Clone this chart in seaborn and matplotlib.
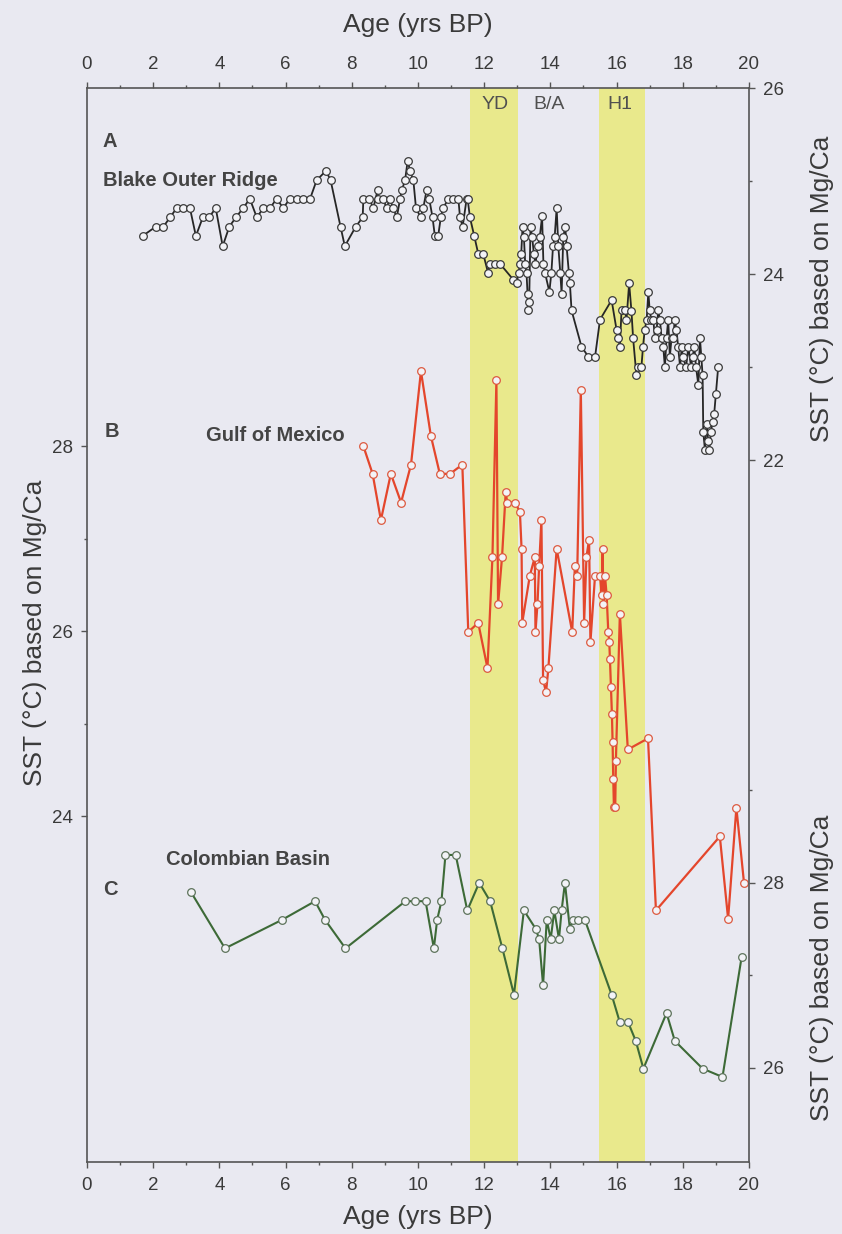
import numpy as np
import pandas as pd
import matplotlib
matplotlib.use("Agg")
import matplotlib.pyplot as plt
from matplotlib.ticker import FixedLocator, MultipleLocator
import seaborn as sns

# ---- data (ages in kyr BP, SST in degC) ----

blake_age = [
    1.68, 2.08, 2.31, 2.51, 2.71, 2.91, 3.11, 3.29, 3.50, 3.69, 3.89, 4.10, 4.30, 4.50,
    4.72, 4.92, 5.13, 5.33, 5.53, 5.73, 5.93, 6.13, 6.34, 6.53, 6.74, 6.94, 7.22, 7.36,
    7.66, 7.79, 8.12, 8.33, 8.35, 8.53, 8.65, 8.78, 8.79, 8.95, 9.05, 9.15, 9.25, 9.36,
    9.46, 9.51, 9.61, 9.69, 9.76, 9.86, 9.94, 10.08, 10.16, 10.26, 10.34, 10.44, 10.51,
    10.61, 10.69, 10.76, 10.92, 11.07, 11.22, 11.27, 11.35, 11.47, 11.50, 11.57, 11.70,
    11.82, 11.97, 12.12, 12.17, 12.33, 12.48, 12.88, 12.98, 13.04, 13.08, 13.12, 13.16,
    13.20, 13.24, 13.28, 13.31, 13.33, 13.36, 13.40, 13.45, 13.50, 13.55, 13.62, 13.68,
    13.75, 13.79, 13.84, 13.97, 14.03, 14.08, 14.13, 14.19, 14.24, 14.30, 14.34, 14.39,
    14.45, 14.49, 14.56, 14.59, 14.64, 14.94, 15.15, 15.35, 15.50, 15.85, 16.00, 16.05,
    16.10, 16.15, 16.25, 16.30, 16.38, 16.45, 16.50, 16.60, 16.65, 16.75, 16.80, 16.85,
    16.91, 16.96, 17.00, 17.05, 17.11, 17.16, 17.21, 17.26, 17.31, 17.36, 17.41, 17.46,
    17.51, 17.56, 17.61, 17.66, 17.71, 17.76, 17.81, 17.86, 17.92, 17.97, 18.00, 18.10,
    18.17, 18.25, 18.30, 18.35, 18.40, 18.47, 18.52, 18.56, 18.60, 18.62, 18.67, 18.72,
    18.77, 18.80, 18.85, 18.90, 18.95, 19.00, 19.07,
]
blake_sst = [
    24.41, 24.51, 24.51, 24.61, 24.71, 24.71, 24.71, 24.41, 24.61, 24.61, 24.71, 24.30, 24.51, 24.61,
    24.71, 24.81, 24.61, 24.71, 24.71, 24.81, 24.71, 24.81, 24.81, 24.81, 24.81, 25.01, 25.11, 25.01,
    24.51, 24.30, 24.51, 24.61, 24.81, 24.81, 24.71, 24.90, 24.81, 24.81, 24.71, 24.81, 24.71, 24.61,
    24.81, 24.90, 25.01, 25.22, 25.11, 25.01, 24.71, 24.61, 24.71, 24.90, 24.81, 24.61, 24.41,
    24.41, 24.61, 24.71, 24.81, 24.81, 24.81, 24.61, 24.51, 24.81, 24.81, 24.61, 24.41,
    24.22, 24.22, 24.01, 24.11, 24.11, 24.11, 23.94, 23.90, 24.01, 24.11, 24.22, 24.51,
    24.40, 24.11, 24.01, 23.79, 23.61, 23.70, 24.51, 24.40, 24.22, 24.11, 24.30, 24.40,
    24.62, 24.11, 24.01, 23.81, 24.01, 24.30, 24.40, 24.71, 24.30, 24.01, 23.79, 24.40,
    24.51, 24.30, 24.01, 23.90, 23.61, 23.22, 23.11, 23.11, 23.51, 23.72, 23.40, 23.31,
    23.22, 23.61, 23.61, 23.51, 23.90, 23.60, 23.31, 22.91, 23.00, 23.00, 23.22, 23.40,
    23.51, 23.81, 23.61, 23.51, 23.51, 23.31, 23.40, 23.61, 23.51, 23.31, 23.22, 23.00,
    23.31, 23.51, 23.11, 23.31, 23.31, 23.51, 23.40, 23.22, 23.00, 23.22, 23.11, 23.00,
    23.22, 23.00, 23.11, 23.22, 23.00, 22.81, 23.31, 23.11, 22.91, 22.30, 22.11, 22.39,
    22.20, 22.11, 22.30, 22.41, 22.50, 22.71, 23.00,
]

gulf_age = [
    8.35, 8.63, 8.88, 9.18, 9.49, 9.79, 10.09, 10.39, 10.66, 10.97, 11.34, 11.52, 11.82,
    12.10, 12.25, 12.37, 12.42, 12.54, 12.65, 12.70, 12.93, 13.08, 13.13, 13.15, 13.38,
    13.53, 13.55, 13.61, 13.66, 13.73, 13.78, 13.87, 13.94, 14.19, 14.66, 14.74, 14.81,
    14.92, 15.02, 15.09, 15.17, 15.21, 15.35, 15.50, 15.55, 15.58, 15.60, 15.65, 15.70,
    15.75, 15.78, 15.80, 15.83, 15.86, 15.88, 15.90, 15.92, 15.96, 15.98, 16.10, 16.34,
    16.95, 17.19, 19.12, 19.37, 19.62, 19.85,
]
gulf_sst = [
    28.00, 27.70, 27.20, 27.70, 27.39, 27.80, 28.81, 28.11, 27.70, 27.70, 27.80, 25.99, 26.09,
    25.60, 26.80, 28.71, 26.29, 26.80, 27.50, 27.39, 27.39, 27.29, 26.89, 26.09, 26.60,
    26.80, 25.99, 26.29, 26.70, 27.20, 25.47, 25.34, 25.60, 26.89, 25.99, 26.70, 26.60,
    28.61, 26.09, 26.80, 26.99, 25.88, 26.60, 26.60, 26.39, 26.89, 26.29, 26.60, 26.39,
    25.99, 25.88, 25.70, 25.40, 25.10, 24.80, 24.40, 24.10, 24.10, 24.60, 26.19, 24.72,
    24.84, 22.98, 23.78, 22.89, 24.09, 23.28,
]

colombia_age = [
    3.14, 4.17, 5.90, 6.89, 7.19, 7.81, 9.62, 9.92, 10.23, 10.48, 10.58, 10.71, 10.83,
    11.14, 11.49, 11.85, 12.18, 12.55, 12.90, 13.20, 13.56, 13.66, 13.78, 13.89, 14.01,
    14.12, 14.26, 14.34, 14.44, 14.59, 14.69, 14.84, 15.04, 15.85, 16.10, 16.35, 16.58,
    16.81, 17.51, 17.76, 18.60, 19.20, 19.78,
]
colombia_sst = [
    27.90, 27.29, 27.60, 27.80, 27.60, 27.29, 27.80, 27.80, 27.80, 27.29, 27.60, 27.80, 28.30,
    28.30, 27.70, 28.00, 27.80, 27.29, 26.79, 27.70, 27.50, 27.39, 26.89, 27.60, 27.39,
    27.70, 27.39, 27.70, 28.00, 27.50, 27.60, 27.60, 27.60, 26.79, 26.49, 26.49, 26.29,
    25.99, 26.59, 26.29, 25.99, 25.90, 27.20,
]

# Younger Dryas and Heinrich 1 shading
band_start = [11.57, 15.47]
band_end = [13.02, 16.86]

BG = "#e9e9f1"
YELLOW = "#e9e98c"
AXC = "#555555"
TXT = "#3a3a3a"

sns.set_theme(style="ticks")
plt.rcParams["font.family"] = ["Liberation Sans", "DejaVu Sans"]

fig = plt.figure(figsize=(8.42, 12.34), dpi=100, facecolor=BG)
ax = fig.add_axes([0.1033, 0.0583, 0.7862, 0.8703])
ax.set_facecolor(BG)
ax_b = ax.twinx()
ax_c = ax.twinx()

for s, e in zip(band_start, band_end):
    ax.axvspan(s, e, color=YELLOW, lw=0, zorder=0)

line_kw = dict(marker="o", markersize=5.5, markeredgewidth=0.9,
               markerfacecolor="#f3f3f7", estimator=None, sort=False)

sns.lineplot(x=gulf_age, y=gulf_sst, ax=ax, color="#e4462c", linewidth=1.6,
             markeredgecolor="#dd5a40", **line_kw)
sns.lineplot(x=blake_age, y=blake_sst, ax=ax_b, color="#262626", linewidth=1.3,
             markeredgecolor="#3a3a3a", **line_kw)
sns.lineplot(x=colombia_age, y=colombia_sst, ax=ax_c, color="#3d6a37", linewidth=1.5,
             markeredgecolor="#5d735b", **line_kw)

# x axis, labelled top and bottom
ax.set_xlim(0, 20)
ax.xaxis.set_major_locator(MultipleLocator(2))
ax.xaxis.set_minor_locator(MultipleLocator(1))
ax.tick_params(axis="x", which="both", top=True, labeltop=True, bottom=True,
               direction="out", color=AXC, width=1, labelsize=13.5,
               labelcolor=TXT, pad=7)
ax.tick_params(axis="x", which="major", length=4)
ax.tick_params(axis="x", which="minor", length=2.5)

# three temperature scales
ax.set_ylim(20.26, 31.87)
ax.yaxis.set_major_locator(FixedLocator([24, 26, 28]))
ax.yaxis.set_minor_locator(FixedLocator([25, 27]))

ax_b.set_ylim(14.45, 26.0)
ax_b.yaxis.set_major_locator(FixedLocator([22, 24, 26]))
ax_b.yaxis.set_minor_locator(FixedLocator([23, 25]))

ax_c.set_ylim(24.98, 36.59)
ax_c.yaxis.set_major_locator(FixedLocator([26, 28]))
ax_c.yaxis.set_minor_locator(FixedLocator([27, 29]))

for a in (ax, ax_b, ax_c):
    a.set_xlabel("")
    a.set_ylabel("")
    a.tick_params(axis="y", which="both", direction="out", color=AXC, width=1,
                  labelsize=13.5, labelcolor=TXT, pad=6)
    a.tick_params(axis="y", which="major", length=4)
    a.tick_params(axis="y", which="minor", length=2.5)

for a in (ax_b, ax_c):
    for sp in a.spines.values():
        sp.set_visible(False)
for sp in ax.spines.values():
    sp.set_visible(True)
    sp.set_color(AXC)
    sp.set_linewidth(1.2)

# axis titles
lab_kw = dict(fontsize=19, color=TXT, ha="center", va="center")
fig.text(0.4964, 0.980, "Age (yrs BP)", **lab_kw)
fig.text(0.4964, 0.014, "Age (yrs BP)", **lab_kw)
sst_label = "SST (°C) based on Mg/Ca"
fig.text(0.042, 0.487, sst_label, rotation=90, **lab_kw)
fig.text(0.976, 0.766, sst_label, rotation=90, **lab_kw)
fig.text(0.976, 0.216, sst_label, rotation=90, **lab_kw)


def ax_frac(px, py):
    # pixel position in the reference -> axes fraction
    return (px - 87) / 662, (1162 - py) / 1074


bold = dict(fontsize=14.5, fontweight="bold", color="#444444", va="center",
            ha="left", transform=ax.transAxes)
for txt, px, py in [("A", 103, 141), ("Blake Outer Ridge", 103, 180),
                    ("B", 105, 431), ("Gulf of Mexico", 206, 435),
                    ("C", 103, 889), ("Colombian Basin", 166, 859)]:
    ax.text(*ax_frac(px, py), txt, **bold)

ev = dict(fontsize=14, color="#505050", va="center", ha="center",
          transform=ax.transAxes)
for txt, px in [("YD", 495), ("B/A", 549), ("H1", 620)]:
    ax.text(*ax_frac(px, 104), txt, **ev)

fig.savefig("out.png", dpi=100, facecolor=BG)
plt.close(fig)
